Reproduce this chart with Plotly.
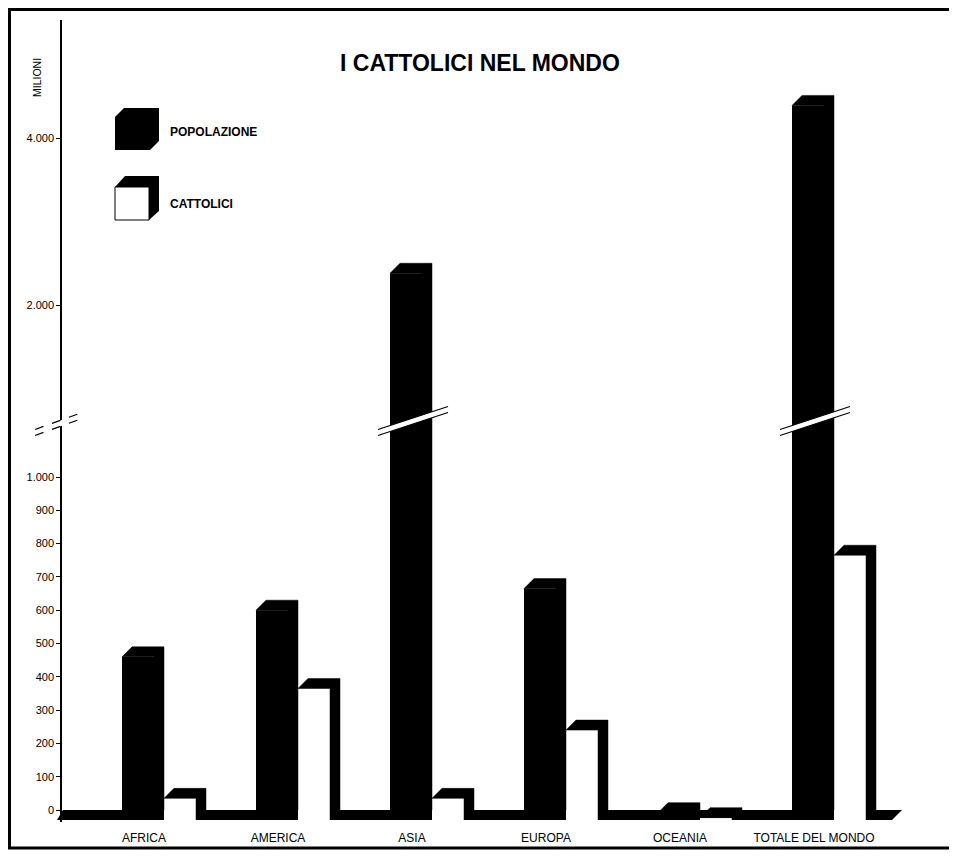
import plotly.graph_objects as go

# ---------------- data (millions) ----------------
categories = ["AFRICA", "AMERICA", "ASIA", "EUROPA", "OCEANIA", "TOTALE DEL MONDO"]
popolazione = [490, 630, 2500, 695, 22, 4510]
cattolici = [65, 395, 65, 270, 7, 795]
tick_low_vals = [0, 100, 200, 300, 400, 500, 600, 700, 800, 900, 1000]
tick_low_text = ["0", "100", "200", "300", "400", "500", "600", "700", "800", "900", "1.000"]
tick_high_vals = [2000, 4000]
tick_high_text = ["2.000", "4.000"]

# ---------------- geometry (reference-pixel based) ----------------
PAGE_OFF = 8                      # default body margin of the html page
W_REF, H_REF = 957, 857
W, H = W_REF - PAGE_OFF, H_REF - PAGE_OFF
ML_REF, MT_REF = 62, 20           # plot area left/top in reference pixels
RIGHT_REF, BOTTOM_REF = 910, 822  # plot area right/bottom in reference pixels
ML, MT = ML_REF - PAGE_OFF, MT_REF - PAGE_OFF
MR, MB = W_REF - RIGHT_REF, H_REF - BOTTOM_REF
PW, PH = RIGHT_REF - ML_REF, BOTTOM_REF - MT_REF

CAT_PX = 134.0          # pixels per category
CAT0_PX = 144.0         # pixel of first category tick
x_range = [(ML_REF - CAT0_PX) / CAT_PX, (RIGHT_REF - CAT0_PX) / CAT_PX]

ZERO_PX = 810.0         # pixel of value 0 (back plane)
LOW_K = 0.333           # px per million, lower part
BREAK_PX = 420.0
low_range = [(ZERO_PX - BOTTOM_REF) / LOW_K, (ZERO_PX - BREAK_PX) / LOW_K]
REF_PX, REF_VAL, HIGH_K = 305.0, 2000.0, 0.0835
high_range = [REF_VAL - (BREAK_PX - REF_PX) / HIGH_K, REF_VAL + (REF_PX - MT_REF) / HIGH_K]
split = (BOTTOM_REF - BREAK_PX) / PH

DX_PX, DY_PX = 10.0, 10.0
POP_OFF, POP_W = -22.0, 32.0
CATH_OFF, CATH_W = 20.0, 32.0
FONT = "Liberation Sans, Arial, sans-serif"


def pxx(x):
    return (x - ML_REF) / PW


def pxy(y):
    return 1 - (y - MT_REF) / PH


def depth_polys(values, off_px, w_px, k):
    dyu = DY_PX / k
    dx = DX_PX / CAT_PX
    xs, ys = [], []
    for i, v in enumerate(values):
        if v is None:
            continue
        xl = i + off_px / CAT_PX
        xr = xl + w_px / CAT_PX
        tf = v - dyu
        xs += [xl, xl + dx, xr + dx, xr + dx, xr, xr, xl, None]
        ys += [tf, v, v, 0, -dyu, tf, tf, None]
    return xs, ys


idx = list(range(len(categories)))
pop_upper = [v if v > low_range[1] else None for v in popolazione]

fig = go.Figure()

# front faces (bars)
fig.add_trace(go.Bar(x=idx, y=popolazione, base=-DY_PX / LOW_K, offset=POP_OFF / CAT_PX,
                     width=POP_W / CAT_PX, marker=dict(color="black", line=dict(width=0)),
                     name="POPOLAZIONE", yaxis="y", hoverinfo="skip"))
fig.add_trace(go.Bar(x=idx, y=cattolici, base=-DY_PX / LOW_K, offset=CATH_OFF / CAT_PX,
                     width=CATH_W / CAT_PX, marker=dict(color="white", line=dict(width=0)),
                     name="CATTOLICI", yaxis="y", hoverinfo="skip"))
fig.add_trace(go.Bar(x=idx, y=pop_upper, base=-DY_PX / HIGH_K, offset=POP_OFF / CAT_PX,
                     width=POP_W / CAT_PX, marker=dict(color="black", line=dict(width=0)),
                     name="POPOLAZIONE", yaxis="y2", hoverinfo="skip"))

# 3D depth (top + side)
for vals, off, w, k, ax in [(popolazione, POP_OFF, POP_W, LOW_K, "y"),
                            (cattolici, CATH_OFF, CATH_W, LOW_K, "y"),
                            (pop_upper, POP_OFF, POP_W, HIGH_K, "y2")]:
    xs, ys = depth_polys(vals, off, w, k)
    fig.add_trace(go.Scatter(x=xs, y=ys, fill="toself", fillcolor="black", mode="lines",
                             line=dict(color="black", width=0.5), yaxis=ax,
                             hoverinfo="skip", showlegend=False))

shapes = []
# floor
FLOOR_R = 902.0
pts = [(ML_REF - 5, ZERO_PX + DY_PX), (ML_REF + 1, ZERO_PX), (FLOOR_R, ZERO_PX),
       (FLOOR_R - DX_PX, ZERO_PX + DY_PX)]
path = "M " + " L ".join(f"{pxx(a):.5f},{pxy(b):.5f}" for a, b in pts) + " Z"
shapes.append(dict(type="path", path=path, xref="paper", yref="paper", fillcolor="black",
                   line=dict(width=0), layer="below"))


def slash(xa, xb, yc, slope=0.33, h=3.0, dash="solid"):
    half = slope * (xb - xa) / 2
    ya, yb = yc + half, yc - half
    poly = [(xa, ya + h), (xb, yb + h), (xb, yb - h), (xa, ya - h)]
    p = "M " + " L ".join(f"{pxx(a):.5f},{pxy(b):.5f}" for a, b in poly) + " Z"
    out = [dict(type="path", path=p, xref="paper", yref="paper", fillcolor="white",
                line=dict(width=0), layer="above")]
    for s in (h, -h):
        out.append(dict(type="line", xref="paper", yref="paper",
                        x0=pxx(xa), y0=pxy(ya + s), x1=pxx(xb), y1=pxy(yb + s),
                        line=dict(color="black", width=1.2, dash=dash), layer="above"))
    return out


for i, v in enumerate(popolazione):
    if v > low_range[1]:
        cx = CAT0_PX + CAT_PX * i
        shapes += slash(cx - 34, cx + 36, BREAK_PX + 1)
shapes += slash(35, 82, BREAK_PX + 4, slope=0.36, dash="dash")

# legend boxes
leg1 = [(115, 150), (115, 117), (124, 108), (159, 108), (159, 141), (150, 150)]
shapes.append(dict(type="path", xref="paper", yref="paper", fillcolor="black", line=dict(width=0),
                   path="M " + " L ".join(f"{pxx(a):.5f},{pxy(b):.5f}" for a, b in leg1) + " Z"))
leg2 = [(115, 187), (125, 176), (159, 176), (159, 211), (149, 220), (149, 187)]
shapes.append(dict(type="path", xref="paper", yref="paper", fillcolor="black", line=dict(width=0),
                   path="M " + " L ".join(f"{pxx(a):.5f},{pxy(b):.5f}" for a, b in leg2) + " Z"))
shapes.append(dict(type="rect", xref="paper", yref="paper", x0=pxx(115), x1=pxx(149),
                   y0=pxy(220), y1=pxy(187), fillcolor="white", line=dict(color="black", width=1)))

# frame
shapes.append(dict(type="rect", xref="paper", yref="paper", x0=pxx(9.5), x1=pxx(951),
                   y0=pxy(848), y1=pxy(9.5), line=dict(color="black", width=3)))

annotations = [
    dict(text="I CATTOLICI NEL MONDO", x=pxx(480), y=pxy(63), xref="paper", yref="paper",
         showarrow=False, font=dict(family=FONT, size=23, color="black", weight="bold"),
         xanchor="center", yanchor="middle"),
    dict(text="MILIONI", x=pxx(37), y=pxy(78), xref="paper", yref="paper", textangle=-90,
         showarrow=False, font=dict(family=FONT, size=10.5, color="black"),
         xanchor="center", yanchor="middle"),
    dict(text="POPOLAZIONE", x=pxx(168), y=pxy(132), xref="paper", yref="paper",
         showarrow=False, font=dict(family=FONT, size=12, color="black", weight="bold"),
         xanchor="left", yanchor="middle"),
    dict(text="CATTOLICI", x=pxx(168), y=pxy(204), xref="paper", yref="paper",
         showarrow=False, font=dict(family=FONT, size=12, color="black", weight="bold"),
         xanchor="left", yanchor="middle"),
]

axis_common = dict(showgrid=False, zeroline=False, showline=True, linecolor="black",
                   linewidth=1.5, ticks="outside", ticklen=4, tickcolor="black", tickwidth=1,
                   tickfont=dict(family=FONT, size=11, color="black"), anchor="x",
                   fixedrange=True)

fig.update_layout(
    width=W, height=H,
    margin=dict(l=ML, r=MR, t=MT, b=MB, pad=0),
    paper_bgcolor="white", plot_bgcolor="white",
    barmode="overlay", showlegend=False,
    xaxis=dict(range=x_range, showgrid=False, zeroline=False, showline=False,
               tickvals=idx, ticktext=categories, ticks="", ticklabelstandoff=7,
               tickfont=dict(family=FONT, size=12, color="black"), fixedrange=True),
    yaxis=dict(domain=[0, split], range=low_range, tickvals=tick_low_vals,
               ticktext=tick_low_text, **axis_common),
    yaxis2=dict(domain=[split, 1], range=high_range, tickvals=tick_high_vals,
                ticktext=tick_high_text, **axis_common),
    shapes=shapes, annotations=annotations,
)

fig.write_html("out.html")
